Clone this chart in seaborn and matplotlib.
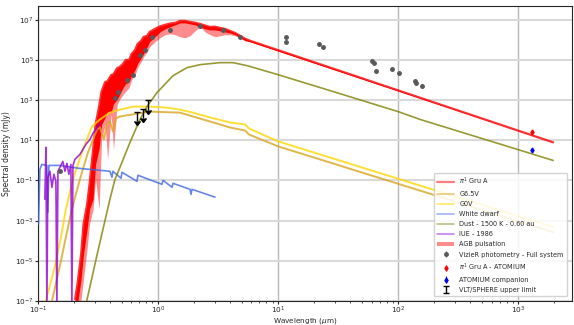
import numpy as np
import matplotlib
matplotlib.use("Agg")
import matplotlib.pyplot as plt
import seaborn as sns

# all curves: log10(wavelength / um) and log10(flux / mJy)
star_logwl = [-0.69, -0.67, -0.64, -0.62, -0.59, -0.57, -0.54, -0.52, -0.49, -0.47,
              -0.44, -0.42, -0.39, -0.37, -0.34, -0.32, -0.29, -0.27, -0.24, -0.22,
              -0.19, -0.17, -0.14, -0.12, -0.09, -0.07, -0.025, 0.017, 0.058, 0.10,
              0.142, 0.183, 0.225, 0.267, 0.308, 0.35, 0.392, 0.433, 0.475, 0.517,
              0.558, 0.60, 0.642, 0.683, 0.725, 0.767, 3.29]
star_hi = [-6.90, -6.15, -4.66, -3.17, -2.18, -1.19, 0.55, 1.79, 2.70, 3.43,
           3.90, 3.95, 4.25, 4.30, 4.60, 4.65, 4.82, 5.00, 5.01, 5.30,
           5.51, 5.80, 5.96, 6.15, 6.21, 6.40, 6.55, 6.68, 6.75, 6.82,
           6.85, 6.95, 6.95, 6.90, 6.86, 6.80, 6.72, 6.65, 6.66, 6.60,
           6.55, 6.45, 6.35, 6.21, 6.06, 5.96, 0.90]
star_lo = [-7.89, -7.14, -5.90, -4.66, -3.42, -2.43, -1.93, -0.20, 0.60, 1.79,
           2.14, 2.43, 2.40, 2.83, 3.03, 3.28, 3.63, 3.82, 3.90, 4.22,
           4.52, 4.82, 5.11, 5.31, 5.66, 5.91, 6.16, 6.40, 6.55, 6.65,
           6.75, 6.85, 6.85, 6.80, 6.75, 6.65, 6.55, 6.50, 6.50, 6.45,
           6.40, 6.35, 6.26, 6.11, 5.96, 5.91, 0.90]
agb_lo = [-8.0, -7.89, -6.90, -5.90, -4.41, -3.17, -2.43, -0.94, -2.43, 1.04,
          1.79, 0.05, 2.29, 0.55, 2.78, 3.03, 3.28, 3.43, 3.63, 4.02,
          4.27, 4.62, 4.92, 5.16, 5.41, 5.66, 5.91, 6.11, 6.26, 6.31,
          6.26, 6.16, 6.11, 6.21, 6.45, 6.65, 6.40, 6.26, 6.16, 6.21,
          6.26, 6.26, 6.21, 6.11, 6.01, 5.91, 0.90]

g65_logwl = [-0.883, -0.817, -0.758, -0.717, -0.65, -0.583, -0.508, -0.483, -0.45, -0.425,
             -0.40, -0.375, -0.35, -0.317, -0.067, 0.183, 0.433, 0.60, 0.725, 0.758,
             1.0, 3.29]
g65_logf = [-7.0, -5.26, -3.57, -2.43, -0.94, 0.40, 1.54, 1.64, 1.04, 1.84,
            1.94, 1.44, 2.09, 2.19, 2.43, 2.38, 1.94, 1.64, 1.49, 1.29,
            0.70, -3.57]

g0_logwl = [-0.933, -0.858, -0.80, -0.767, -0.708, -0.625, -0.55, -0.483, -0.40, -0.317,
            -0.208, -0.067, 0.075, 0.183, 0.292, 0.433, 0.60, 0.725, 0.758, 1.0, 3.29]
g0_logf = [-7.0, -5.26, -3.57, -2.43, -0.94, 0.55, 1.69, 2.04, 2.38, 2.53,
           2.68, 2.68, 2.63, 2.53, 2.38, 2.14, 1.89, 1.79, 1.59, 0.95, -3.32]

wd_logwl = [-0.995, -0.983, -0.967, -0.925, -0.917, -0.908, -0.817, -0.65, -0.40, -0.383,
            -0.375, -0.308, -0.30, -0.175, -0.167, 0.033, 0.042, 0.117, 0.125, 0.267,
            0.275, 0.283, 0.475]
wd_logf = [-3.17, -0.44, -0.20, -0.25, -2.58, -0.25, -0.25, -0.40, -0.54, -0.84,
           -0.54, -0.89, -0.59, -1.04, -0.74, -1.19, -0.99, -1.34, -1.14, -1.44,
           -1.69, -1.44, -1.83]

dust_logwl = [-0.608, -0.50, -0.40, -0.358, -0.317, -0.233, -0.15, -0.092, -0.008, 0.125,
              0.242, 0.35, 0.517, 0.625, 0.742, 1.0, 1.458, 2.0, 2.183, 3.29]
dust_logf = [-7.39, -4.51, -1.93, -0.94, -0.35, 0.90, 2.04, 2.68, 3.38, 4.22,
             4.62, 4.77, 4.87, 4.87, 4.72, 4.27, 3.43, 2.43, 2.04, 0.0]

iue_logwl = [-0.942, -0.933, -0.925, -0.917, -0.90, -0.883, -0.867, -0.85, -0.842, -0.833,
             -0.817, -0.792, -0.775, -0.758, -0.742, -0.725, -0.717, -0.708, -0.692, -0.667,
             -0.65, -0.625, -0.60, -0.567, -0.542, -0.517, -0.483]
iue_logf = [-1.93, 0.65, -7.39, -0.84, -0.54, -1.34, -0.69, -1.04, -7.39, -0.54,
            -0.35, -0.05, -0.54, -0.15, -0.69, -0.20, -7.39, -0.25, 0.05, 0.20,
            0.30, 0.55, 0.80, 1.04, 1.34, 1.54, 1.84]

# photometry (um, mJy)
vizier_wl = [0.1525, 0.438, 0.464, 0.552, 0.619, 0.708, 0.779, 0.891, 1.26, 2.24,
             3.48, 4.82, 11.7, 11.7, 22.0, 23.7, 60.7, 63.1, 65.6, 89.1,
             102, 139, 141, 158]
vizier_f = [0.29, 1350, 2690, 1.05e4, 1.86e4, 1.82e5, 3.24e5, 1.45e6, 3.16e6, 5.0e6,
            3.16e6, 1.45e6, 1.45e6, 8.1e5, 6.5e5, 4.6e5, 9.3e4, 7.4e4, 2.95e4, 3.7e4,
            2.3e4, 9.3e3, 7.4e3, 5.2e3]
atomium_wl = [1310]
atomium_f = [27.5]
companion_f = [3.2]
sphere_wl = [0.668, 0.750, 0.826]
sphere_f = [272, 383, 1070]
sphere_err = [185, 260, 730]

sns.set_style("ticks")
fig, ax = plt.subplots(figsize=(5.74, 3.25), dpi=100)
fig.subplots_adjust(left=0.066, right=0.9965, bottom=0.074, top=0.982)


def lin(v):
    return 10 ** np.asarray(v, dtype=float)


agb = ax.fill_between(lin(star_logwl), lin(agb_lo), lin(star_hi), color="red",
                      alpha=0.45, lw=0, label="AGB pulsation", zorder=2)
ax.fill_between(lin(star_logwl), lin(star_lo), lin(star_hi), color="red", lw=0, zorder=2.1)

kw = dict(ax=ax, sort=False, estimator=None, alpha=0.8, zorder=3)
sns.lineplot(x=lin(star_logwl), y=lin(star_hi), color="red", lw=1.6, label=r"$\pi^1$ Gru A", **kw)
sns.lineplot(x=lin(g65_logwl), y=lin(g65_logf), color="goldenrod", lw=1.4, label="G6.5V", **kw)
sns.lineplot(x=lin(g0_logwl), y=lin(g0_logf), color="gold", lw=1.4, label="G0V", **kw)
sns.lineplot(x=lin(wd_logwl), y=lin(wd_logf), color="royalblue", lw=1.2, label="White dwarf", **kw)
sns.lineplot(x=lin(dust_logwl), y=lin(dust_logf), color="olive", lw=1.2,
             label="Dust - 1500 K - 0.60 au", **kw)
sns.lineplot(x=lin(iue_logwl), y=lin(iue_logf), color="darkviolet", lw=1.2, label="IUE - 1986", **kw)

viz = ax.errorbar(vizier_wl, vizier_f, yerr=np.array(vizier_f) * 0.2, fmt="o", ms=2.5,
                  color="0.35", elinewidth=0.8, zorder=5, label="VizieR photometry - Full system")
atm = ax.errorbar(atomium_wl, atomium_f, yerr=[4], fmt="d", ms=2.5, color="red",
                  elinewidth=0.8, zorder=5, label=r"$\pi^1$ Gru A - ATOMIUM")
cmp_ = ax.errorbar(atomium_wl, companion_f, yerr=[0.5], fmt="d", ms=2.5, color="blue",
                   elinewidth=0.8, zorder=5, label="ATOMIUM companion")
sph = ax.errorbar(sphere_wl, sphere_f, yerr=sphere_err, uplims=True, fmt="none", color="black",
                  capsize=2, elinewidth=1, zorder=6, label="VLT/SPHERE upper limit")

ax.set_xscale("log")
ax.set_yscale("log")
ax.set_xlim(0.1, 2800)
ax.set_ylim(1e-7, 5e7)
ax.set_yticks([1e-7, 1e-5, 1e-3, 1e-1, 1e1, 1e3, 1e5, 1e7])
ax.yaxis.set_minor_locator(matplotlib.ticker.NullLocator())
ax.grid(axis="y", color="0.85", lw=1.5)
ax.grid(axis="x", color="0.72", lw=1)
ax.set_axisbelow(True)
ax.tick_params(labelsize=5.3, length=2, width=0.8, pad=1)
ax.tick_params(which="minor", length=1.5, width=0.6)
ax.set_xlabel(r"Wavelength ($\mu$m)", fontsize=5.2)
ax.set_ylabel("Spectral density (mJy)", fontsize=5.5)
ax.xaxis.set_label_coords(0.5, -0.05)
ax.yaxis.set_label_coords(-0.05, 0.5)
for s in ax.spines.values():
    s.set_linewidth(0.8)
    s.set_color("0.15")

handles, labels = ax.get_legend_handles_labels()
order = [r"$\pi^1$ Gru A", "G6.5V", "G0V", "White dwarf", "Dust - 1500 K - 0.60 au",
         "IUE - 1986", "AGB pulsation", "VizieR photometry - Full system",
         r"$\pi^1$ Gru A - ATOMIUM", "ATOMIUM companion", "VLT/SPHERE upper limit"]
hmap = dict(zip(labels, handles))
leg = ax.legend([hmap[k] for k in order], order, loc="lower right", fontsize=4.7,
                labelspacing=0.62, handlelength=2.6, borderpad=0.5, framealpha=0.85,
                bbox_to_anchor=(0.997, 0.005))
for h in leg.legend_handles[:6]:
    h.set_alpha(0.5)

fig.savefig("out.png", dpi=100)
